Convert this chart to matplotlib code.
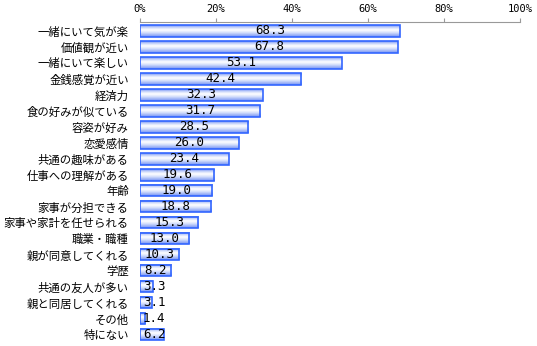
import numpy as np
import matplotlib
matplotlib.use("Agg")
import matplotlib.pyplot as plt
from matplotlib.colors import LinearSegmentedColormap

plt.rcParams['font.family'] = ['Noto Sans CJK JP', 'DejaVu Sans']

# 回答項目と割合(%)
items = ["一緒にいて気が楽", "価値観が近い", "一緒にいて楽しい", "金銭感覚が近い",
         "経済力", "食の好みが似ている", "容姿が好み", "恋愛感情",
         "共通の趣味がある", "仕事への理解がある", "年齢", "家事が分担できる",
         "家事や家計を任せられる", "職業・職種", "親が同意してくれる", "学歴",
         "共通の友人が多い", "親と同居してくれる", "その他", "特にない"]
values = [68.3, 67.8, 53.1, 42.4, 32.3, 31.7, 28.5, 26.0, 23.4, 19.6,
          19.0, 18.8, 15.3, 13.0, 10.3, 8.2, 3.3, 3.1, 1.4, 6.2]
ticks = [0, 20, 40, 60, 80, 100]

fig = plt.figure(figsize=(5.37, 3.46), dpi=100)
ax = fig.add_axes([140 / 537, 0, 380 / 537, 1 - 22 / 346])

# 上下が青、中央が白のグラデーション
cmap = LinearSegmentedColormap.from_list(
    "barfill", ["#6f8ff5", "#c9d6fb", "#ffffff", "#dde5fc", "#a9bcf7", "#6f8ff5"])
grad = np.linspace(0, 1, 64).reshape(-1, 1)

h = 0.69
for i, v in enumerate(values):
    ax.imshow(grad, extent=(0, v, i + h / 2, i - h / 2), aspect='auto',
              cmap=cmap, zorder=1, interpolation='bilinear')
    ax.barh(i, v, height=h, fill=False, edgecolor="#3366ff", linewidth=1.2, zorder=2)
    ax.text(max(v / 2, 3.7), i, f"{v:.1f}", ha='center', va='center',
            fontsize=9, family='DejaVu Sans Mono', color='black', zorder=3)

ax.set_xlim(0, 100)
ax.set_ylim(19 + 0.69, -0.5625)
ax.set_aspect('auto')

ax.set_yticks(range(len(items)))
ax.set_yticklabels(items, fontsize=8.2)
ax.tick_params(axis='y', length=0, pad=8)

ax.xaxis.tick_top()
ax.set_xticks(ticks)
ax.set_xticklabels([f"{t}%" for t in ticks], fontsize=7.5, family='DejaVu Sans Mono')
ax.tick_params(axis='x', direction='out', length=3, color='#999999', pad=3)

for s in ['left', 'right', 'bottom']:
    ax.spines[s].set_visible(False)
ax.spines['top'].set_color('#999999')

fig.savefig("out.png", dpi=100)
